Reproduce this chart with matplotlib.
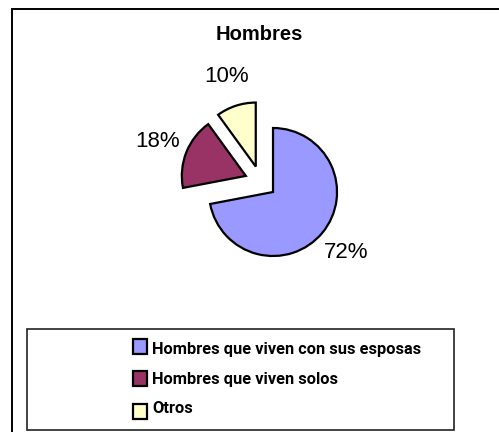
import matplotlib
matplotlib.use("Agg")
import matplotlib.pyplot as plt
from matplotlib.patches import Rectangle

categories = ["Hombres que viven con sus esposas", "Hombres que viven solos", "Otros"]
values = [72, 18, 10]
colors = ["#9999FF", "#993366", "#FFFFCC"]
title = "Hombres"

W, H = 499, 432
fig = plt.figure(figsize=(W / 100, H / 100), dpi=100)
fig.patch.set_facecolor("white")

def fx(x):
    return x / W

def fy(y):
    return 1 - y / H

# outer chart frame (only top/left visible)
fig.patches.append(Rectangle((fx(12), fy(460)), fx(520), (460 - 9) / H,
                             transform=fig.transFigure, fill=False,
                             edgecolor="black", linewidth=1.4))

# title
fig.text(fx(259), fy(35), title, ha="center", va="center",
         fontsize=14.5, fontweight="bold", family=["Liberation Sans", "DejaVu Sans"])

# pie
R = 64
cx, cy = 260.7, 181.8
S = 300
ax = fig.add_axes([fx(cx - S / 2), fy(cy + S / 2), S / W, S / H])
ax.axis("off")
wedges, texts, autotexts = ax.pie(
    values, explode=[0.25] * len(values), colors=colors, startangle=90,
    counterclock=False, autopct="%1.0f%%", pctdistance=1.48, radius=1,
    wedgeprops=dict(edgecolor="black", linewidth=1.6),
    textprops=dict(fontsize=16, family=["Liberation Sans", "DejaVu Sans"], color="black"))
ax.set_xlim(-S / 2 / R, S / 2 / R)
ax.set_ylim(-S / 2 / R, S / 2 / R)

# legend box
fig.patches.append(Rectangle((fx(27), fy(430)), (454 - 27) / W, (430 - 328.5) / H,
                             transform=fig.transFigure, fill=False,
                             edgecolor="#222222", linewidth=1.2))

marker_tops = [339, 371, 404]
text_base = [354, 384, 413]
for i, cat in enumerate(categories):
    t = marker_tops[i]
    fig.patches.append(Rectangle((fx(133), fy(t + 15)), 14 / W, 15 / H,
                                 transform=fig.transFigure, facecolor=colors[i],
                                 edgecolor="black", linewidth=1.6))
    fig.text(fx(152), fy(text_base[i]), cat, ha="left", va="baseline",
             fontsize=11.8, fontweight="bold",
             family=["Roboto", "Liberation Sans", "DejaVu Sans"])

fig.savefig("out.png", dpi=100)
